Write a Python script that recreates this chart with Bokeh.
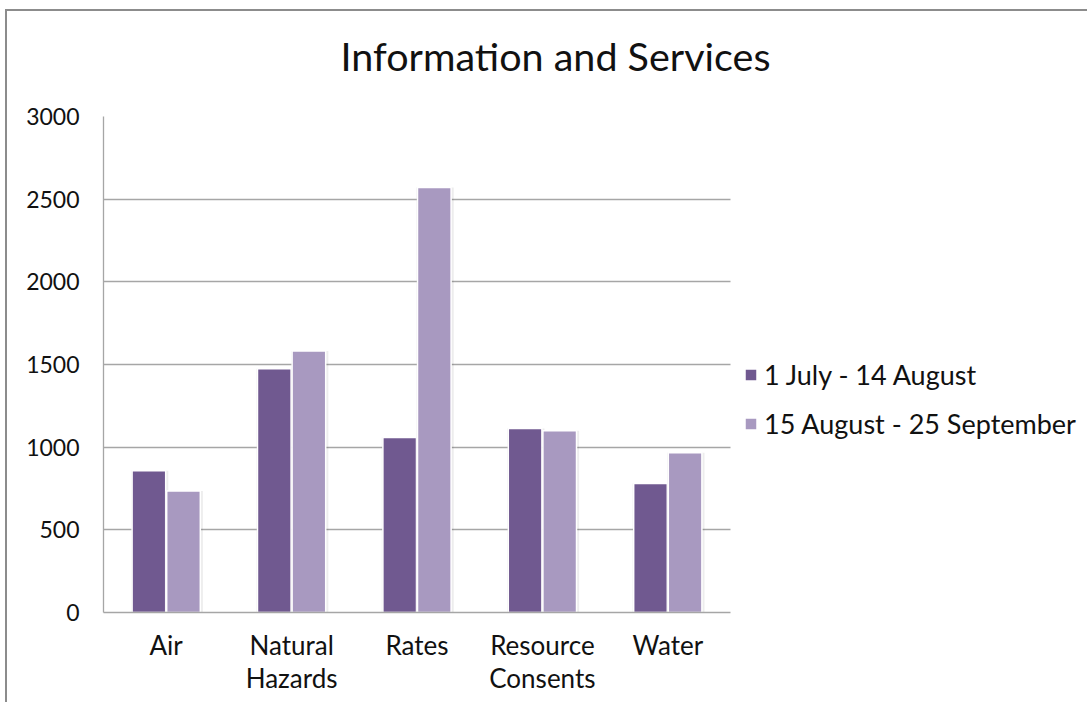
from bokeh.plotting import figure
from bokeh.models import Range1d, Legend, LegendItem, Title, FixedTicker, ColumnDataSource
from bokeh.transform import dodge
from bokeh.embed import file_html
from bokeh.resources import INLINE

categories = ["Air", "Natural\nHazards", "Rates", "Resource\nConsents", "Water"]
series_names = ["1 July - 14 August", "15 August - 25 September"]
period1 = [858, 1475, 1058, 1113, 780]
period2 = [735, 1582, 2570, 1100, 966]
y_ticks = [0, 500, 1000, 1500, 2000, 2500, 3000]
colors = ["#705990", "#A899C0"]

FONT = "Lato"
ncat = len(categories)
# category slots 0..ncat on a numeric scale; the frame continues to the right to hold the legend
cat_pos = [i + 0.5 for i in range(ncat)]
x_end = ncat * 986 / 627

p = figure(
    width=1082, height=693,
    x_range=Range1d(0, x_end),
    y_range=Range1d(0, 3000),
    output_backend="svg", toolbar_location=None,
    min_border_left=96, min_border_right=0, min_border_top=105, min_border_bottom=92,
)
p.styles = {
    "margin-left": "5px", "margin-top": "9px",
    "border-left": "2px solid #8c8c8c", "border-top": "2px solid #8c8c8c",
}
p.outline_line_color = None
p.background_fill_color = "white"
p.border_fill_color = "white"

# spacer between frame and title
p.add_layout(Title(text=" ", text_font_size="10px", standoff=25), "above")

p.title.text = "Information and Services"
p.title.align = "left"
p.title.offset = 237
p.title.standoff = 0
p.title.text_font = FONT
p.title.text_font_size = "39.5px"
p.title.text_font_style = "normal"
p.title.text_color = "#111111"

source = ColumnDataSource(dict(x=cat_pos, cat=categories, a=period1, b=period2))
w = 0.268
offs = [-0.138, 0.138]
renderers = []
for key, off, col in zip(["a", "b"], offs, colors):
    p.vbar(x=dodge("x", off + 0.006), top=key, width=w + 0.03, source=source,
           fill_color="#000000", fill_alpha=0.07, line_color=None)
    r = p.vbar(x=dodge("x", off), top=key, width=w, source=source,
               fill_color=col, line_color="white", line_width=1.5)
    renderers.append(r)

p.xgrid.grid_line_color = None
p.ygrid.grid_line_color = "#a6a6a6"
p.ygrid.grid_line_width = 1.3
p.ygrid.cross_bounds = (0, ncat)
p.yaxis.ticker = y_ticks
p.yaxis.axis_line_color = "#a6a6a6"
p.yaxis.axis_line_width = 1.3
p.xaxis.ticker = FixedTicker(ticks=cat_pos, minor_ticks=[])
p.xaxis.major_label_overrides = {x: c for x, c in zip(cat_pos, categories)}
p.xaxis.axis_line_color = "#a6a6a6"
p.xaxis.axis_line_width = 1.3
p.xaxis.bounds = (0, ncat)
for ax in (p.xaxis, p.yaxis):
    ax.major_tick_line_color = None
    ax.minor_tick_line_color = None
    ax.major_tick_out = 0
    ax.major_tick_in = 0
    ax.major_label_text_font = FONT
    ax.major_label_text_color = "#111111"
p.yaxis.major_label_text_font_size = "23px"
p.xaxis.major_label_text_font_size = "26px"
p.xaxis.major_label_text_line_height = 1.05
p.yaxis.major_label_standoff = 24
p.xaxis.major_label_standoff = 16

legend = Legend(
    items=[LegendItem(label=n, renderers=[r]) for n, r in zip(series_names, renderers)],
    location=(640, 172),
    orientation="vertical",
)
legend.border_line_color = None
legend.background_fill_alpha = 0
legend.padding = 0
legend.margin = 0
legend.spacing = 16
legend.glyph_width = 15
legend.glyph_height = 15
legend.label_height = 26
legend.label_standoff = 6
legend.label_text_font = FONT
legend.label_text_font_size = "27px"
legend.label_text_color = "#111111"
p.add_layout(legend, "center")

open("out.html", "w").write(file_html(p, INLINE))
